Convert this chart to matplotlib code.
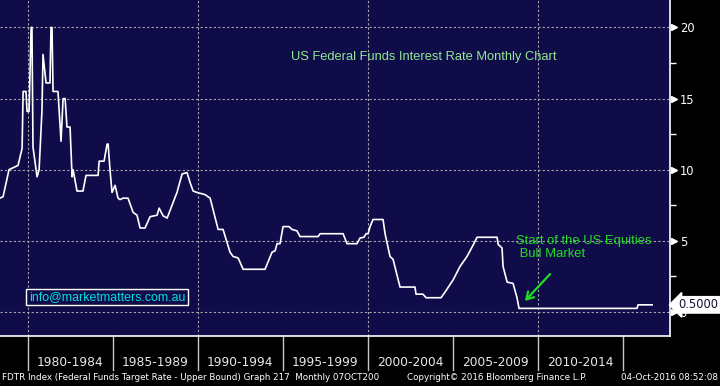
import matplotlib
matplotlib.use("Agg")
import matplotlib.pyplot as plt

# Fed funds target rate (upper bound), breakpoints
dates = [1978.38, 1978.56, 1978.91, 1979.26, 1979.44, 1979.68, 1979.74, 1979.91,
         1979.97, 1980.09, 1980.21, 1980.26, 1980.32, 1980.56, 1980.68, 1980.85,
         1980.91, 1981.09, 1981.32, 1981.38, 1981.44, 1981.50, 1981.79, 1981.97,
         1982.09, 1982.21, 1982.32, 1982.50, 1982.62, 1982.68, 1982.91, 1983.26,
         1983.44, 1984.15, 1984.21, 1984.50, 1984.68, 1984.74, 1984.85, 1984.97,
         1985.15, 1985.32, 1985.44, 1985.62, 1985.91, 1986.21, 1986.44, 1986.62,
         1986.91, 1987.21, 1987.62, 1987.74, 1987.97, 1988.21, 1988.50, 1988.79,
         1989.09, 1989.38, 1989.56, 1989.74, 1989.97, 1990.44, 1990.74, 1991.21,
         1991.50, 1991.91, 1992.09, 1992.38, 1992.50, 1992.68, 1993.97, 1994.38,
         1994.56, 1994.68, 1994.85, 1995.03, 1995.38, 1995.56, 1995.85, 1996.03,
         1997.09, 1997.21, 1998.56, 1998.79, 1999.38, 1999.56, 1999.79, 1999.91,
         2000.03, 2000.15, 2000.32, 2000.91, 2001.03, 2001.32, 2001.50, 2001.91,
         2002.79, 2002.85, 2003.26, 2003.44, 2004.32, 2004.56, 2005.03, 2005.44,
         2005.85, 2006.21, 2006.44, 2007.62, 2007.68, 2007.91, 2007.97, 2008.21,
         2008.56, 2008.79, 2008.91, 2015.85, 2015.91, 2016.74]
rates = [8.0, 8.1, 10.0, 10.2, 10.3, 11.5, 15.5, 15.5,
         14.1, 14.1, 20.0, 20.0, 11.6, 9.5, 10.0, 14.2,
         18.1, 16.1, 16.1, 20.0, 20.0, 15.5, 15.5, 12.0,
         15.0, 15.0, 13.0, 13.0, 9.5, 10.0, 8.5, 8.5,
         9.6, 9.6, 10.6, 10.6, 11.8, 11.8, 10.0, 8.4,
         8.9, 8.0, 7.9, 8.0, 8.0, 7.0, 6.8, 5.9,
         5.9, 6.7, 6.8, 7.3, 6.76, 6.6, 7.5, 8.4,
         9.7, 9.8, 9.1, 8.5, 8.4, 8.25, 8.0, 5.8,
         5.8, 4.2, 3.9, 3.8, 3.5, 3.0, 3.0, 4.2,
         4.3, 4.8, 4.8, 6.0, 6.0, 5.8, 5.7, 5.3,
         5.3, 5.5, 5.5, 4.8, 4.8, 5.2, 5.25, 5.5,
         5.5, 6.0, 6.5, 6.5, 5.5, 3.9, 3.7, 1.75,
         1.75, 1.25, 1.25, 1.0, 1.0, 1.4, 2.25, 3.2,
         3.9, 4.7, 5.25, 5.25, 4.75, 4.5, 3.2, 2.1,
         2.0, 1.0, 0.25, 0.25, 0.5, 0.5]

period_labels = ["1980-1984", "1985-1989", "1990-1994", "1995-1999",
                 "2000-2004", "2005-2009", "2010-2014"]
period_edges = [1980, 1985, 1990, 1995, 2000, 2005, 2010, 2015]
grid_years = [1980, 1990, 2000, 2010]
y_ticks = [0, 5, 10, 15, 20]
y_minor = [2.5, 7.5, 12.5, 17.5]
last_value = 0.5

navy = "#100c4a"

fig = plt.figure(figsize=(7.2, 3.86), dpi=100)
fig.patch.set_facecolor("black")
ax = fig.add_axes([0, 0.1303, 670 / 720, 0.8697])
ax.set_facecolor(navy)

ax.plot(dates, rates, color="white", lw=1.2, zorder=3)

ax.set_xlim(1978.38, 2017.79)
ax.set_ylim(-1.67, 21.93)

# grid
ax.set_xticks(grid_years)
ax.set_yticks(y_ticks)
ax.set_yticks(y_minor, minor=True)
ax.grid(color="#a8a8a8", linestyle=(0, (2, 2)), lw=0.8)
ax.tick_params(axis="x", length=0, labelbottom=False)

# spines
for s in ["left", "top"]:
    ax.spines[s].set_visible(False)
ax.spines["bottom"].set_color("white")
ax.spines["right"].set_color("white")
ax.spines["bottom"].set_linewidth(1.2)
ax.spines["right"].set_linewidth(1.2)

# right axis
ax.yaxis.tick_right()
ax.tick_params(axis="y", which="major", length=0, pad=7, labelsize=8.3, labelcolor="white")
ax.tick_params(axis="y", which="minor", length=4, width=1, color="white", direction="out")
ytr = ax.get_yaxis_transform()
ax.plot([1.006] * len(y_ticks), y_ticks, marker=">", ls="none", color="white",
        ms=4.5, transform=ytr, clip_on=False)

# last value tag
ax.text(1.012, last_value, "%.4f" % last_value, transform=ytr, ha="left", va="center",
        fontsize=8.3, color="#101030", zorder=10, clip_on=False,
        bbox=dict(boxstyle="larrow,pad=0.15", fc="white", ec="white"))

# bottom period axis
xtr = ax.get_xaxis_transform()
for e in period_edges:
    ax.plot([e, e], [0, -0.102], transform=xtr, clip_on=False, color="#c8c8c8", lw=1)
for i, lab in enumerate(period_labels):
    mid = (period_edges[i] + period_edges[i + 1]) / 2
    ax.text(mid, -0.08, lab, transform=xtr, ha="center", va="center",
            fontsize=8.8, color="#e8e8e8")

# texts
ax.text(423.5 / 670, 1 - 57 / 335.7, "US Federal Funds Interest Rate Monthly Chart",
        transform=ax.transAxes, ha="center", va="center", fontsize=9.3,
        color="#92e892", family="Liberation Sans")

ax.text(516 / 670, 1 - 247.5 / 335.7, "Start of the US Equities\n Bull Market",
        transform=ax.transAxes, ha="left", va="center", fontsize=9.4,
        color="#22dd22", family="Liberation Sans", linespacing=1.2)
ax.annotate("", xy=(523 / 670, 1 - 303 / 335.7), xytext=(552 / 670, 1 - 272 / 335.7),
            xycoords="axes fraction", textcoords="axes fraction",
            arrowprops=dict(arrowstyle="->,head_length=0.5,head_width=0.3",
                            color="#22dd22", lw=1.6))

ax.text(107 / 670, 1 - 297 / 335.7, "info@marketmatters.com.au",
        transform=ax.transAxes, ha="center", va="center", fontsize=8.9,
        color="#00e0e0", family="Liberation Sans",
        bbox=dict(boxstyle="square,pad=0.2", fc=navy, ec="white", lw=1))

# footer
fig.text(0.003, 0.021, "FDTR Index (Federal Funds Target Rate - Upper Bound) Graph 217  Monthly 07OCT200",
         ha="left", va="center", fontsize=6.3, color="white")
fig.text(497 / 720, 0.021, "Copyright\u00a9 2016 Bloomberg Finance L.P.",
         ha="center", va="center", fontsize=6.3, color="white")
fig.text(0.997, 0.021, "04-Oct-2016 08:52:08",
         ha="right", va="center", fontsize=6.3, color="white")

fig.savefig("out.png", dpi=100, facecolor=fig.get_facecolor())
